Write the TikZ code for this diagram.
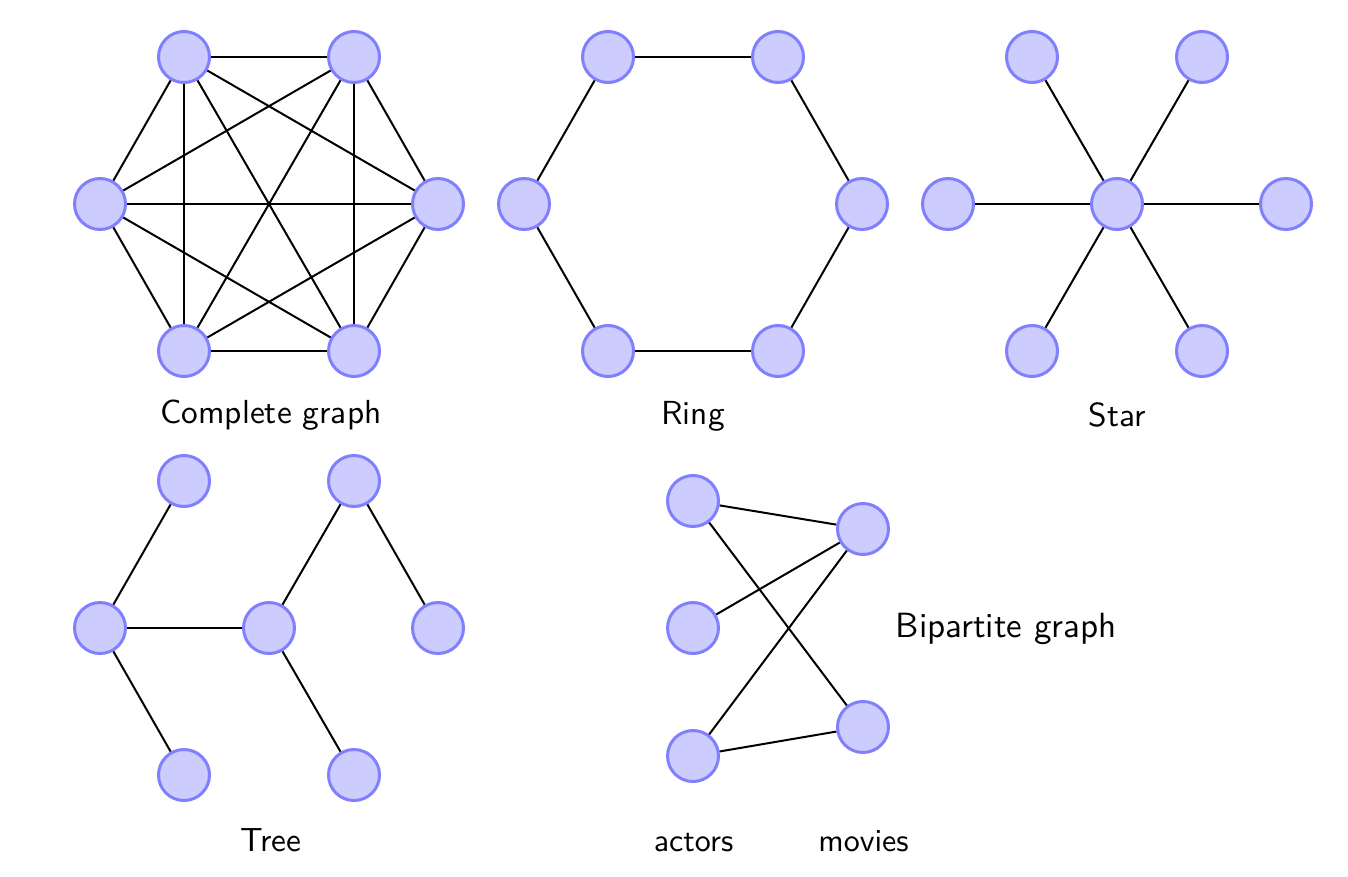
\documentclass[tikz,border=0pt]{standalone}
\begin{document}
\begin{tikzpicture}[x=0.3pt,y=-0.3pt,
  vtx/.style={circle,draw=blue!50,fill=blue!20,line width=0.9pt,minimum size=15.3pt,inner sep=0pt},
  edge/.style={line width=0.6pt,black},
  lbl/.style={anchor=base,inner sep=0pt,font=\sffamily\fontsize{10}{12}\selectfont}]
\useasboundingbox (0,0) rectangle (1348,876);
% Complete graph
\node[vtx] (c1) at (184,57) {};
\node[vtx] (c2) at (354,57) {};
\node[vtx] (c3) at (100,204) {};
\node[vtx] (c4) at (438,204) {};
\node[vtx] (c5) at (184,351) {};
\node[vtx] (c6) at (354,351) {};
\foreach \a/\b in {c1/c2,c1/c3,c1/c4,c1/c5,c1/c6,c2/c3,c2/c4,c2/c5,c2/c6,c3/c4,c3/c5,c3/c6,c4/c5,c4/c6,c5/c6}
  \draw[edge] (\a) -- (\b);
\node[lbl] (lc) at (271,423) {Complete graph};
% Ring
\node[vtx] (r1) at (608,57) {};
\node[vtx] (r2) at (778,57) {};
\node[vtx] (r3) at (524,204) {};
\node[vtx] (r4) at (862,204) {};
\node[vtx] (r5) at (608,351) {};
\node[vtx] (r6) at (778,351) {};
\draw[edge] (r1) -- (r2);
\draw[edge] (r2) -- (r4);
\draw[edge] (r4) -- (r6);
\draw[edge] (r6) -- (r5);
\draw[edge] (r5) -- (r3);
\draw[edge] (r3) -- (r1);
\node[lbl] (lr) at (693,424) {Ring};
% Star
\node[vtx] (s0) at (1117,204) {};
\node[vtx] (s1) at (1032,57) {};
\node[vtx] (s2) at (1202,57) {};
\node[vtx] (s3) at (948,204) {};
\node[vtx] (s4) at (1286,204) {};
\node[vtx] (s5) at (1032,351) {};
\node[vtx] (s6) at (1202,351) {};
\foreach \b in {s1,s2,s3,s4,s5,s6}
  \draw[edge] (s0) -- (\b);
\node[lbl] (ls) at (1117,426) {Star};
% Tree
\node[vtx] (t1) at (184,481) {};
\node[vtx] (t2) at (354,481) {};
\node[vtx] (t3) at (100,628) {};
\node[vtx] (t4) at (269,628) {};
\node[vtx] (t5) at (438,628) {};
\node[vtx] (t6) at (184,775) {};
\node[vtx] (t7) at (354,775) {};
\draw[edge] (t3) -- (t1);
\draw[edge] (t3) -- (t4);
\draw[edge] (t3) -- (t6);
\draw[edge] (t4) -- (t2);
\draw[edge] (t2) -- (t5);
\draw[edge] (t4) -- (t7);
\node[lbl] (lt) at (271,851) {Tree};
% Bipartite
\node[vtx] (a1) at (693,501) {};
\node[vtx] (a2) at (693,628) {};
\node[vtx] (a3) at (693,756) {};
\node[vtx] (m1) at (863,529) {};
\node[vtx] (m2) at (863,727) {};
\draw[edge] (a1) -- (m1);
\draw[edge] (a1) -- (m2);
\draw[edge] (a2) -- (m1);
\draw[edge] (a3) -- (m1);
\draw[edge] (a3) -- (m2);
\node[lbl,font=\sffamily\fontsize{9.6}{12}\selectfont] (la) at (693.5,851) {actors};
\node[lbl,font=\sffamily\fontsize{9.6}{12}\selectfont] (lm) at (863.5,851) {movies};
\node[lbl,anchor=base west,font=\sffamily\fontsize{10.5}{12}\selectfont] (lb) at (895,637) {Bipartite graph};
\end{tikzpicture}
\end{document}
